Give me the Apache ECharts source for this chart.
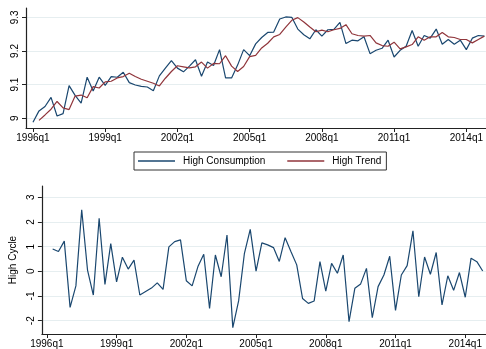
<!DOCTYPE html>
<html>
<head>
<meta charset="utf-8">
<script src="https://cdn.jsdelivr.net/npm/echarts@6/dist/echarts.min.js"></script>
<style>
html,body{margin:0;padding:0;background:#fff;}
#c{width:486px;height:349px;}
</style>
</head>
<body>
<div id="c"></div>
<script>
// Quarterly categories 1996q1 .. 2014q4
const quarters = [];
for (let y = 1996; y <= 2014; y++) for (let q = 1; q <= 4; q++) quarters.push(y + 'q' + q);

const tickLabels = ['1996q1','1999q1','2002q1','2005q1','2008q1','2011q1','2014q1'];
const topYTicks = [9, 9.1, 9.2, 9.3];
const bottomYTicks = [-2, -1, 0, 1, 2, 3];

// High Consumption (log), 1996q1..2014q4
const highConsumption = [
  8.988, 9.022, 9.035, 9.062, 9.007, 9.014, 9.097, 9.068,
  9.045, 9.122, 9.081, 9.122, 9.098, 9.124, 9.122, 9.137,
  9.106, 9.099, 9.095, 9.093, 9.082, 9.126, 9.149, 9.171,
  9.149, 9.138, 9.155, 9.174, 9.125, 9.167, 9.157, 9.204,
  9.120, 9.120, 9.158, 9.204, 9.186, 9.221, 9.240, 9.255,
  9.256, 9.295, 9.301, 9.300, 9.265, 9.248, 9.236, 9.263,
  9.244, 9.263, 9.264, 9.285, 9.222, 9.232, 9.230, 9.242,
  9.192, 9.202, 9.208, 9.232, 9.182, 9.202, 9.214, 9.261,
  9.214, 9.246, 9.238, 9.265, 9.220, 9.234, 9.220, 9.232,
  9.204, 9.238, 9.246, 9.244
];

// High Trend, starts 1996q2
const highTrend = [
  null, 8.994, 9.010, 9.027, 9.050, 9.031, 9.026, 9.066,
  9.069, 9.061, 9.094, 9.090, 9.108, 9.110, 9.120, 9.124,
  9.134, 9.124, 9.116, 9.110, 9.104, 9.096, 9.119, 9.139,
  9.156, 9.153, 9.150, 9.153, 9.167, 9.149, 9.163, 9.162,
  9.186, 9.155, 9.139, 9.154, 9.183, 9.187, 9.209, 9.223,
  9.242, 9.249, 9.271, 9.291, 9.299, 9.286, 9.271, 9.257,
  9.262, 9.257, 9.263, 9.267, 9.278, 9.251, 9.246, 9.244,
  9.246, 9.224, 9.216, 9.214, 9.226, 9.206, 9.212, 9.219,
  9.242, 9.232, 9.242, 9.242, 9.255, 9.242, 9.240, 9.234,
  9.234, 9.224, 9.234, 9.244
];

// High Cycle, starts 1996q2
const highCycle = [
  null, 0.90, 0.80, 1.22, -1.46, -0.59, 2.49, 0.05,
  -0.96, 2.15, -0.53, 1.12, -0.43, 0.57, 0.09, 0.45,
  -0.96, -0.82, -0.68, -0.47, -0.73, 0.99, 1.20, 1.27,
  -0.38, -0.59, 0.19, 0.69, -1.50, 0.66, -0.22, 1.47,
  -2.28, -1.20, 0.73, 1.70, 0.01, 1.15, 1.07, 0.96,
  0.40, 1.36, 0.80, 0.26, -1.10, -1.30, -1.20, 0.39,
  -0.80, 0.32, -0.08, 0.66, -2.04, -0.69, -0.51, 0.12,
  -1.88, -0.62, -0.15, 0.61, -1.58, -0.15, 0.23, 1.64,
  -1.03, 0.58, -0.12, 0.76, -1.36, -0.18, -0.77, -0.05,
  -1.05, 0.53, 0.39, 0.01
];

const NAVY = '#1a476f', MAROON = '#90353b';
const GRID = '#e6eef0', AXIS = '#222';
const FONT = "'Liberation Sans', Arial, sans-serif";

const xTickIdx = tickLabels.map(l => quarters.indexOf(l));
const toPairs = arr => arr.map((v, i) => [i, v]).filter(p => p[1] !== null);

function xAxisCfg(gridIndex, min, max) {
  return {
    type: 'value', gridIndex, min, max,
    axisLine: { show: true, onZero: false, lineStyle: { color: AXIS, width: 1.2 } },
    axisTick: { show: true, length: 4, customValues: xTickIdx, lineStyle: { color: AXIS } },
    axisLabel: { customValues: xTickIdx, margin: 5, color: '#000', fontSize: 10, fontFamily: FONT,
      formatter: v => quarters[Math.round(v)] || '' },
    splitLine: { show: false }
  };
}
function yAxisCfg(gridIndex, min, max, ticks, extra) {
  return Object.assign({
    type: 'value', gridIndex, min, max,
    axisLine: { show: true, onZero: false, lineStyle: { color: AXIS, width: 1.2 } },
    axisTick: { show: true, length: 4, customValues: ticks, lineStyle: { color: AXIS } },
    axisLabel: { customValues: ticks, rotate: 90, margin: 6, color: '#000', fontSize: 10, fontFamily: FONT,
      formatter: v => String(Math.round(v * 10) / 10) },
    splitLine: { show: true, lineStyle: { color: GRID, width: 1 } }
  }, extra || {});
}

const chart = echarts.init(document.getElementById('c'), null, { renderer: 'canvas' });
chart.setOption({
  animation: false,
  backgroundColor: '#fff',
  textStyle: { fontFamily: FONT },
  grid: [
    { left: 26, top: 8, width: 460, height: 120 },
    { left: 37, top: 186, width: 449, height: 148 }
  ],
  legend: {
    left: 134, top: 152,
    padding: [4, 5, 4, 4],
    borderColor: '#333', borderWidth: 1,
    icon: 'rect',
    itemWidth: 37, itemHeight: 1.5, itemGap: 22,
    textStyle: { fontSize: 10, fontFamily: FONT, color: '#000', padding: [0, 0, 0, 3] },
    data: ['High Consumption', 'High Trend']
  },
  xAxis: [ xAxisCfg(0, -1.16, 75.25), xAxisCfg(1, -0.85, 75.57) ],
  yAxis: [
    yAxisCfg(0, 8.9712, 9.3276, topYTicks),
    yAxisCfg(1, -2.538, 3.453, bottomYTicks, {
      name: 'High Cycle', nameLocation: 'middle', nameGap: 19,
      nameTextStyle: { fontSize: 10, fontFamily: FONT, color: '#000' }
    })
  ],
  series: [
    { name: 'High Consumption', type: 'line', xAxisIndex: 0, yAxisIndex: 0,
      data: toPairs(highConsumption), symbol: 'none', color: NAVY,
      lineStyle: { color: NAVY, width: 1.2 } },
    { name: 'High Trend', type: 'line', xAxisIndex: 0, yAxisIndex: 0,
      data: toPairs(highTrend), symbol: 'none', color: MAROON,
      lineStyle: { color: MAROON, width: 1.2 } },
    { name: 'High Cycle', type: 'line', xAxisIndex: 1, yAxisIndex: 1,
      data: toPairs(highCycle), symbol: 'none', color: NAVY,
      lineStyle: { color: NAVY, width: 1.2 } }
  ]
});
</script>
</body>
</html>
